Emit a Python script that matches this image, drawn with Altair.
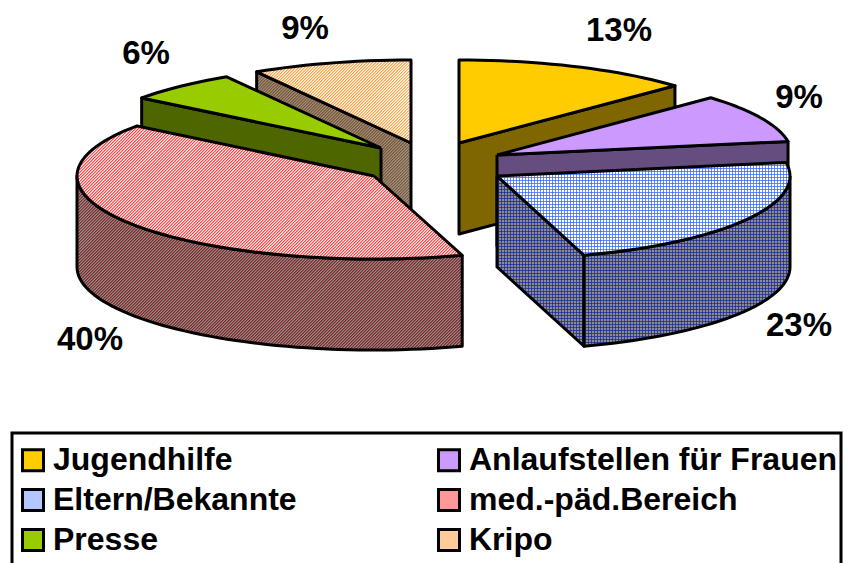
import math
import altair as alt
import pandas as pd

# ---- values ----
CATEGORIES = ["Jugendhilfe", "Anlaufstellen für Frauen", "Eltern/Bekannte",
              "med.-päd.Bereich", "Presse", "Kripo"]
SHARES = [12.9, 9.49, 22.81, 40.1, 6.1, 8.6]
PERCENT_LABELS = ["13%", "9%", "23%", "40%", "6%", "9%"]

# ---- styling ----
TOP_COLORS = ["#ffcc00", "#cc99ff", "#ffffff", "#ffffff", "#99cc00", "#ffffff"]
WALL_COLORS = ["#806600", "#664d80", "#8c8c8c", "#969696", "#4d6600", "#969696"]
HATCH_COLORS = [None, None, "#3366ff", "#ff3333", None, "#ff9933"]
WALL_HATCH_COLORS = [None, None, "#1a2a99", "#801a1a", None, "#804d1a"]
HATCH_KIND = [None, None, "grid", "diag", None, "diag"]
SWATCH_COLORS = ["#ffcc00", "#cc99ff", "#b3c6ff", "#ff9999", "#99cc00", "#ffcc99"]
FONT = "Liberation Sans"

# ---- layout (pixels of the picture) ----
W, H = 843, 563
APEX = [(459, 143), (497, 155), (497, 176), (374, 176), (381, 148), (411, 143)]
RX = [298, 295, 293, 297, 300, 300]
RY = 83
DEPTH = 91
LABEL_POS = [(619, 31), (799, 98), (799, 326), (90, 340), (146, 54), (305, 29)]
DRAW_ORDER = [5, 4, 3, 0, 1, 2]

x_enc = alt.X("x:Q", axis=None, scale=alt.Scale(domain=[8, W], nice=False, zero=False))
y_enc = alt.Y("y:Q", axis=None, scale=alt.Scale(domain=[H, 8], nice=False, zero=False))


def pt(i, deg):
    cx, cy = APEX[i]
    a = math.radians(deg)
    return (cx + RX[i] * math.sin(a), cy - RY * math.cos(a))


def arc(i, a0, a1):
    n = max(2, int(abs(a1 - a0) / 2) + 1)
    return [pt(i, a0 + (a1 - a0) * k / (n - 1)) for k in range(n)]


def down(points):
    return [(x, y + DEPTH) for x, y in points]


def clip_family(poly, nx, ny, step, phase):
    """Segments of lines nx*x + ny*y = const falling inside a polygon."""
    vals = [nx * p[0] + ny * p[1] for p in poly]
    c = math.floor(min(vals) / step) * step + phase
    out = []
    dx, dy = -ny, nx
    m = len(poly)
    while c <= max(vals):
        hits = []
        for k in range(m):
            v0, v1 = vals[k], vals[(k + 1) % m]
            if (v0 - c) * (v1 - c) < 0:
                t = (c - v0) / (v1 - v0)
                p0, p1 = poly[k], poly[(k + 1) % m]
                hits.append((p0[0] + t * (p1[0] - p0[0]), p0[1] + t * (p1[1] - p0[1])))
        hits.sort(key=lambda p: p[0] * dx + p[1] * dy)
        for k in range(0, len(hits) - 1, 2):
            out.append({"x": hits[k][0], "y": hits[k][1], "x2": hits[k + 1][0], "y2": hits[k + 1][1]})
        c += step
    return out


def hatch_layer(poly, kind, color):
    if kind == "grid":
        rows = clip_family(poly, 1, 0, 3, 0.5) + clip_family(poly, 0, 1, 3, 0.5)
        width = 0.75
    else:
        rows = clip_family(poly, 1, 1, 3, 0.25)
        width = 1.05
    return alt.Chart(pd.DataFrame(rows)).mark_rule(color=color, strokeWidth=width).encode(
        x=x_enc, y=y_enc, x2="x2:Q", y2="y2:Q")


def poly_frame(poly, name=None):
    closed = list(poly) + [poly[0]]
    return pd.DataFrame([{"x": p[0], "y": p[1], "i": k, "cat": name} for k, p in enumerate(closed)])


def poly_layer(poly, fill=None, stroke=None, name=None):
    kw = dict(strokeJoin="round")
    if stroke:
        kw.update(stroke="black", strokeWidth=3)
    else:
        kw.update(strokeWidth=0)
    if fill:
        kw["fill"] = fill
    enc = dict(x=x_enc, y=y_enc, order=alt.Order("i:Q"))
    if name:
        enc["fill"] = alt.Fill(
            "cat:N",
            scale=alt.Scale(domain=CATEGORIES, range=SWATCH_COLORS),
            sort=CATEGORIES,
            legend=alt.Legend(
                title=None, orient="none", legendX=5, legendY=432,
                direction="horizontal", columns=2, columnPadding=135, rowPadding=6,
                symbolType="square", symbolSize=441, symbolStrokeColor="black",
                symbolStrokeWidth=3, labelFont=FONT, labelFontSize=32,
                labelFontWeight="bold", labelColor="black", labelOffset=4,
                labelLimit=500, padding=4,
            ),
        )
    return alt.Chart(poly_frame(poly, name)).mark_line(**kw).encode(**enc)


layers = []
cum = [0]
for s in SHARES:
    cum.append(cum[-1] + s)

for i in DRAW_ORDER:
    a0, a1 = cum[i] * 3.6, cum[i + 1] * 3.6
    apex = APEX[i]
    # side faces
    walls = []
    if math.sin(math.radians(a0)) < 0:
        p = pt(i, a0)
        walls.append([apex, p, (p[0], p[1] + DEPTH), (apex[0], apex[1] + DEPTH)])
    if math.sin(math.radians(a1)) > 0:
        p = pt(i, a1)
        walls.append([apex, p, (p[0], p[1] + DEPTH), (apex[0], apex[1] + DEPTH)])
    r0, r1 = max(a0, 90), min(a1, 270)
    if r0 < r1:
        rim = arc(i, r0, r1)
        walls.append(rim + down(rim)[::-1])
    for w in walls:
        layers.append(poly_layer(w, fill=WALL_COLORS[i]))
        if HATCH_KIND[i]:
            layers.append(hatch_layer(w, HATCH_KIND[i], WALL_HATCH_COLORS[i]))
        layers.append(poly_layer(w, stroke=True))
    # top face
    top = [apex] + arc(i, a0, a1)
    layers.append(poly_layer(top, name=CATEGORIES[i]))
    layers.append(poly_layer(top, fill=TOP_COLORS[i]))
    if HATCH_KIND[i]:
        layers.append(hatch_layer(top, HATCH_KIND[i], HATCH_COLORS[i]))
    layers.append(poly_layer(top, stroke=True))

# percent labels
label_df = pd.DataFrame({
    "x": [p[0] for p in LABEL_POS],
    "y": [p[1] for p in LABEL_POS],
    "t": PERCENT_LABELS,
})
layers.append(alt.Chart(label_df).mark_text(
    font=FONT, fontSize=33, fontWeight="bold", color="black", align="center", baseline="middle"
).encode(x=x_enc, y=y_enc, text="t:N"))

# legend frame, open at the picture's lower edge
frame = pd.DataFrame([{"x": 12, "y": H, "i": 0}, {"x": 12, "y": 433, "i": 1},
                      {"x": 841, "y": 433, "i": 2}, {"x": 841, "y": H, "i": 3}])
layers.append(alt.Chart(frame).mark_line(color="black", strokeWidth=3).encode(
    x=x_enc, y=y_enc, order=alt.Order("i:Q")))

chart = alt.layer(*layers).properties(
    width=W - 8, height=H - 8, padding=0, autosize=alt.AutoSizeParams(type="none")
).configure_view(stroke=None)

chart.save("out.html", embed_options={"renderer": "svg", "actions": False})
